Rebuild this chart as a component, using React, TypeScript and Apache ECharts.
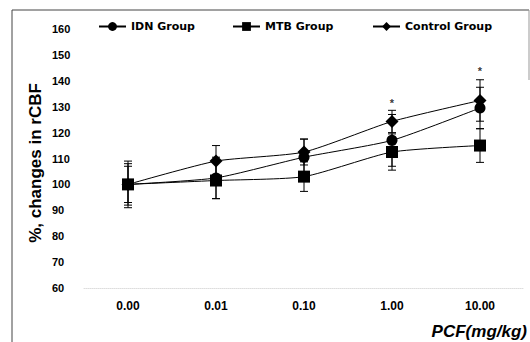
import React, { useEffect, useRef } from "react";
import * as echarts from "echarts";

const categories = ["0.00", "0.01", "0.10", "1.00", "10.00"];
const yTicks = [60, 70, 80, 90, 100, 110, 120, 130, 140, 150, 160];

const idnValues = [100, 102.5, 110.5, 117, 129.5];
const idnErr = [8, 8, 7, 10, 8];
const mtbValues = [100, 101.5, 103, 112.5, 115];
const mtbErr = [7, 7, 5.7, 7, 6.5];
const controlValues = [100, 109, 112.5, 124.3, 132.4];
const controlErr = [9, 6, 5, 4.3, 8];
const starY = [null, null, null, 132.5, 145];

const errData = (vals: number[], errs: number[]) =>
  vals.map((v, i) => [i, v, errs[i]]);

const renderErr = (params: any, api: any) => {
  const x = api.value(0);
  const y = api.value(1);
  const e = api.value(2);
  const top = api.coord([x, y + e]);
  const bot = api.coord([x, y - e]);
  const half = 4;
  const style = { stroke: "#000", lineWidth: 1 };
  return {
    type: "group",
    children: [
      { type: "line", shape: { x1: top[0], y1: top[1], x2: bot[0], y2: bot[1] }, style },
      { type: "line", shape: { x1: top[0] - half, y1: top[1], x2: top[0] + half, y2: top[1] }, style },
      { type: "line", shape: { x1: bot[0] - half, y1: bot[1], x2: bot[0] + half, y2: bot[1] }, style },
    ],
  };
};

export default function App() {
  const ref = useRef<HTMLDivElement>(null);
  useEffect(() => {
    if (!ref.current) return;
    const chart = echarts.init(ref.current, null, { renderer: "svg" });
    const legendText = {
      fontFamily: "DejaVu Sans",
      fontWeight: "bold" as const,
      fontSize: 11,
      color: "#000",
    };
    const mkLegend = (name: string, left: number) => ({
      data: [name],
      left,
      top: 21,
      padding: 0,
      itemWidth: 27,
      itemHeight: 11,
      textStyle: legendText,
      selectedMode: false,
    });
    const lineSeries = (name: string, data: number[], symbol: string, size: number) => ({
      name,
      type: "line",
      data,
      symbol,
      symbolSize: size,
      smooth: 0.2,
      lineStyle: { color: "#000", width: 1 },
      itemStyle: { color: "#000" },
      z: 3,
    });
    chart.setOption({
      animation: false,
      backgroundColor: "#fff",
      grid: { left: 84, right: 6, top: 29, bottom: 54 },
      legend: [
        mkLegend("IDN Group", 98),
        mkLegend("MTB Group", 232),
        mkLegend("Control Group", 372),
      ],
      xAxis: {
        type: "category",
        data: categories,
        boundaryGap: true,
        axisLine: { show: true, lineStyle: { color: "#ddd", type: "dotted" } },
        axisTick: { show: false },
        axisLabel: {
          margin: 12,
          fontFamily: "Liberation Sans",
          fontWeight: "bold",
          fontSize: 12,
          color: "#000",
        },
      },
      yAxis: {
        type: "value",
        min: yTicks[0],
        max: yTicks[yTicks.length - 1],
        interval: 10,
        axisLine: { show: false },
        axisTick: { show: false },
        splitLine: { show: false },
        axisLabel: {
          align: "left",
          margin: 32,
          fontFamily: "Liberation Sans",
          fontWeight: "bold",
          fontSize: 11,
          color: "#000",
        },
      },
      graphic: [
        { type: "line", shape: { x1: 12, y1: 10, x2: 529, y2: 10 }, style: { stroke: "#444", lineWidth: 1 } },
        { type: "line", shape: { x1: 12, y1: 10, x2: 12, y2: 342 }, style: { stroke: "#444", lineWidth: 1 } },
        { type: "line", shape: { x1: 529, y1: 10, x2: 529, y2: 80 }, style: { stroke: "#999", lineWidth: 1 } },
        {
          type: "text",
          x: 35,
          y: 163,
          rotation: Math.PI / 2,
          style: {
            text: "%, changes in rCBF",
            fontFamily: "Liberation Sans",
            fontWeight: "bold",
            fontSize: 17,
            fill: "#000",
            align: "center",
            verticalAlign: "middle",
          },
        },
        {
          type: "text",
          x: 527,
          y: 331,
          style: {
            text: "PCF(mg/kg)",
            fontFamily: "Liberation Sans",
            fontWeight: "bold",
            fontStyle: "italic",
            fontSize: 17,
            fill: "#000",
            align: "right",
            verticalAlign: "middle",
          },
        },
      ],
      series: [
        { type: "custom", name: "errIDN", renderItem: renderErr, data: errData(idnValues, idnErr), z: 2 },
        { type: "custom", name: "errMTB", renderItem: renderErr, data: errData(mtbValues, mtbErr), z: 2 },
        { type: "custom", name: "errCtl", renderItem: renderErr, data: errData(controlValues, controlErr), z: 2 },
        lineSeries("Control Group", controlValues, "diamond", 13),
        lineSeries("IDN Group", idnValues, "circle", 11),
        lineSeries("MTB Group", mtbValues, "rect", 12),
        {
          type: "scatter",
          name: "stars",
          data: starY.map((v, i) => (v == null ? null : [i, v])).filter((d) => d),
          symbolSize: 1,
          itemStyle: { color: "transparent" },
          label: {
            show: true,
            position: "inside",
            formatter: "*",
            fontFamily: "Liberation Sans",
            fontWeight: "bold",
            fontSize: 11,
            color: "#000",
            offset: [0, 3],
          },
        },
      ],
    });
    return () => chart.dispose();
  }, []);
  return (
    <div
      ref={ref}
      style={{ position: "fixed", left: 0, top: 0, width: 530, height: 342 }}
    />
  );
}
